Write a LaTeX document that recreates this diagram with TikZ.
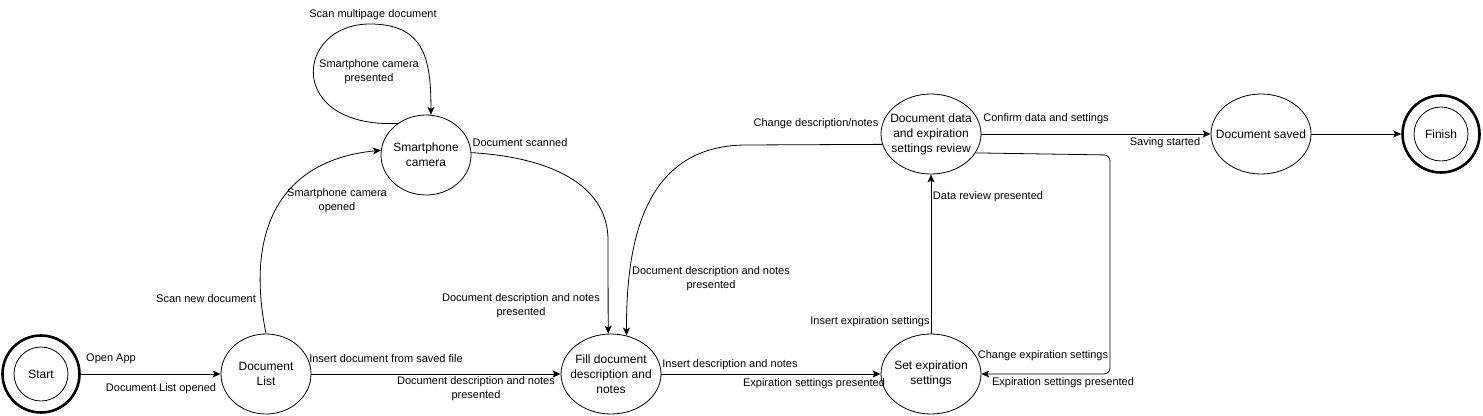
\documentclass[tikz,border=0pt]{standalone}
\usepackage{fontspec}
\setmainfont{Liberation Sans}
\usetikzlibrary{shapes.geometric,arrows.meta}
\tikzset{
  state/.style={draw, ellipse, line width=0.8pt, minimum width=90pt, minimum height=80pt, inner xsep=-16pt, inner ysep=0pt, align=center, font=\fontsize{12}{15}\selectfont},
  wide/.style={state, minimum width=100pt},
  final/.style={draw, circle, line width=2.6pt, minimum size=77pt, inner sep=0pt, font=\fontsize{12}{15}\selectfont,
    path picture={\draw[line width=0.8pt] (path picture bounding box.center) circle (27pt);}},
  edge/.style={line width=0.8pt, -{Stealth[length=8pt,width=7pt,inset=2pt]}},
  lbl/.style={inner sep=0pt, align=center, font=\fontsize{11}{14}\selectfont}
}

\begin{document}
\begin{tikzpicture}[x=1pt,y=-1pt]
                \useasboundingbox (0,0) rectangle (1483,415);
                \node[final] (ST) at (41,374) {Start};
                \node[state] (DL) at (266,374) {Document\\List};
                \node[state] (SC) at (426,155) {Smartphone\\camera};
                \node[wide] (FD) at (611,374) {Fill document\\description and\\notes};
                \node[wide] (SE) at (931,374) {Set expiration\\settings};
                \node[wide] (RV) at (931,134) {Document data\\and expiration\\settings review};
                \node[wide] (DS) at (1261,134) {Document saved};
                \node[final] (FN) at (1441,134) {Finish};
                \draw[edge] (ST.east) -- (DL.west);
                \draw[edge] (DL.north) .. controls (245,230) and (280,160) .. (SC.174);
                \draw[edge] (SC.132) .. controls (285,128) and (295,24) .. (370,24) .. controls (425,24) and (431,60) .. (SC.83);
                \draw[edge] (SC.3) .. controls (560,158) and (608,190) .. (608,240) -- (FD.94);
                \draw[edge] (RV.192) -- (745,145) .. controls (650,146) and (626,230) .. (FD.68);
                \draw[edge] (DL.east) -- (FD.west);
                \draw[edge] (FD.east) -- (SE.west);
                \draw[edge] (SE.north) -- (RV.south);
                \draw[edge, rounded corners=6pt] (RV.337) -- (1110,155) -- (1110,374) -- (SE.east);
                \draw[edge] (RV.east) -- (DS.west);
                \draw[edge] (DS.east) -- (FN.west);
                \node[lbl] (l1) at (111,359) {Open App};
                \node[lbl] (l2) at (161,389) {Document List opened};
                \node[lbl] (l3) at (206,299) {Scan new document};
                \node[lbl] (l4) at (337,201) {Smartphone camera\\opened};
                \node[lbl] (l5) at (373,15) {Scan multipage document};
                \node[lbl] (l6) at (369,72) {Smartphone camera\\presented};
                \node[lbl] (l7) at (520,143) {Document scanned};
                \node[lbl] (l8) at (521,306) {Document description and notes\\presented};
                \node[lbl] (l9) at (711,279) {Document description and notes\\presented};
                \node[lbl] (l10) at (816,124) {Change description/notes};
                \node[lbl] (l11) at (386,359) {Insert document from saved file};
                \node[lbl] (l12) at (476,389) {Document description and notes\\presented};
                \node[lbl] (l13) at (730,365) {Insert description and notes};
                \node[lbl] (l14) at (814,384) {Expiration settings presented};
                \node[lbl] (l15) at (870,322) {Insert expiration settings};
                \node[lbl] (l16) at (988,197) {Data review presented};
                \node[lbl] (l17) at (1043,356) {Change expiration settings};
                \node[lbl] (l18) at (1063,383) {Expiration settings presented};
                \node[lbl] (l19) at (1046,119) {Confirm data and settings};
                \node[lbl] (l20) at (1165,143) {Saving started};
            \end{tikzpicture}
\end{document}
